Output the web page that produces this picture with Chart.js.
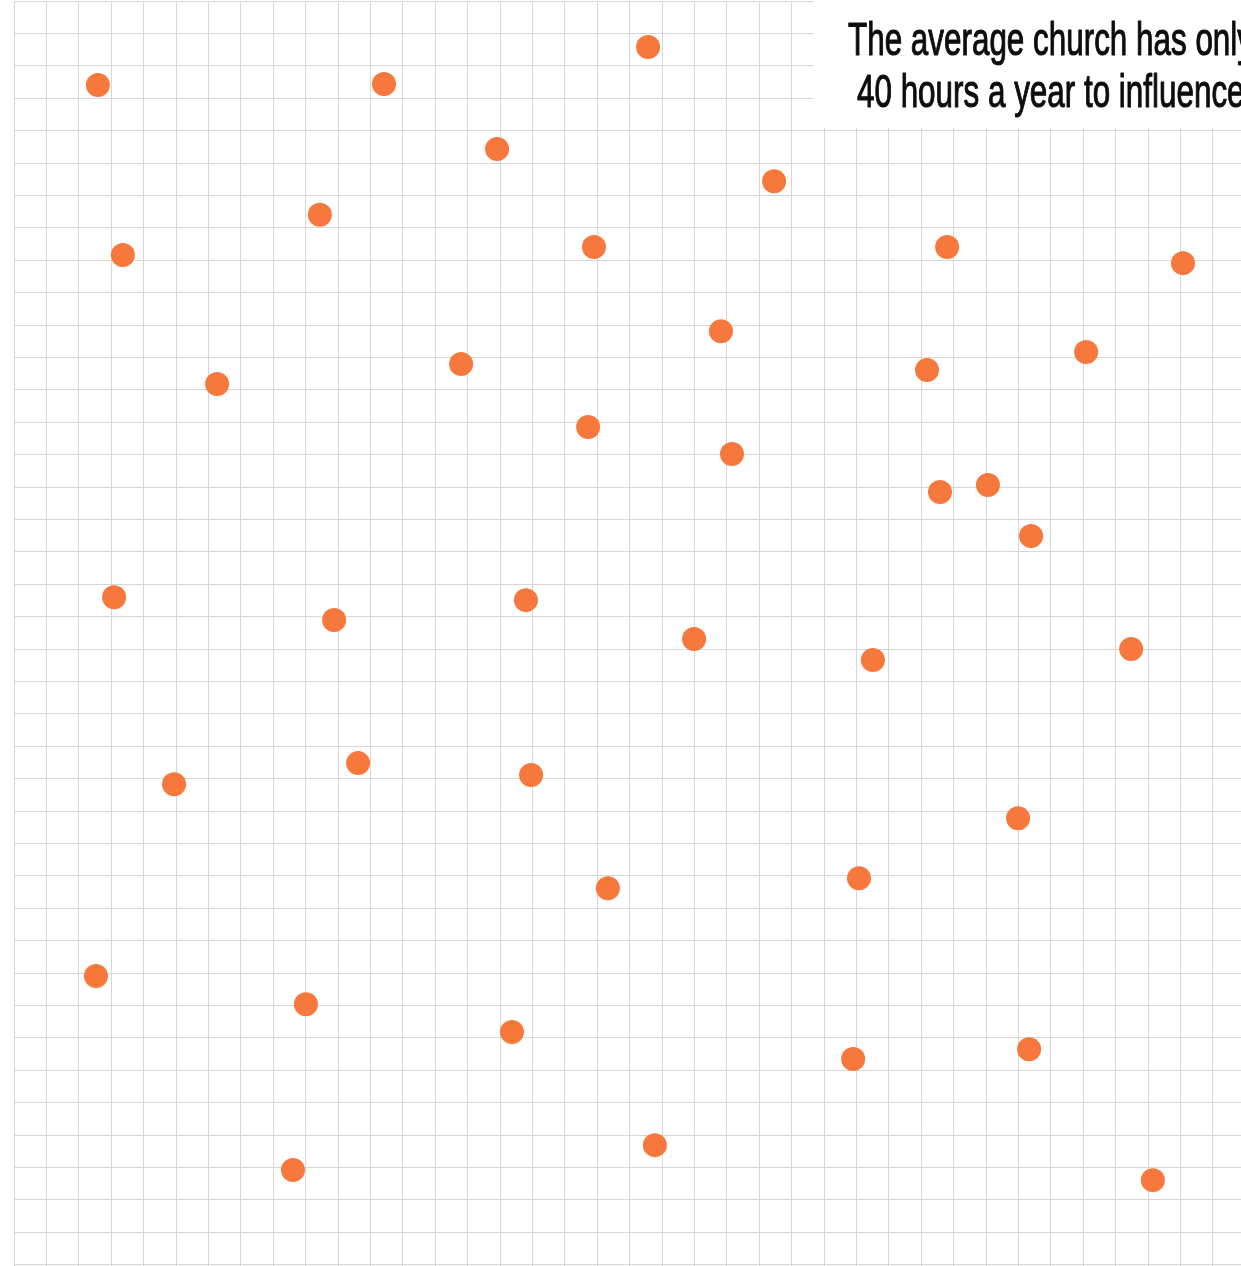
<!DOCTYPE html>
<html>
<head>
<meta charset="utf-8">
<script src="https://cdn.jsdelivr.net/npm/chart.js@4.4.1/dist/chart.umd.min.js"></script>
<style>
    html, body { margin: 0; padding: 0; background: #fff; }
    #wrap { width: 1241px; height: 1266px; position: relative; }
</style>
</head>
<body>
<div id="wrap"><canvas id="dots"></canvas></div>
<script>
// dot positions, in grid squares (x from left edge, y from top edge)
const xValues = [2.59, 11.42, 19.57, 14.91, 23.46, 9.44, 3.36, 17.90, 28.80, 36.08,
    21.82, 33.09, 13.80, 28.18, 6.27, 17.72, 22.16, 28.58, 30.06, 31.39,
    3.09, 9.88, 15.80, 20.99, 26.51, 34.48, 10.62, 4.94, 15.96, 30.99,
    18.33, 26.08, 2.53, 9.01, 15.37, 25.90, 31.33, 19.78, 8.61, 35.15];
const yValues = [2.59, 2.56, 1.42, 4.57, 5.56, 6.60, 7.84, 7.59, 7.59, 8.09,
    10.19, 10.83, 11.20, 11.39, 11.82, 13.15, 13.98, 15.15, 14.94, 16.51,
    18.40, 19.10, 18.49, 19.69, 20.34, 20.00, 23.52, 24.17, 23.89, 25.22,
    27.38, 27.07, 30.09, 30.96, 31.82, 32.65, 32.35, 35.31, 36.08, 36.39];
const titleLines = ['The average church has only', '40 hours a year to influence'];

const xMax = 37.87;
const yMax = 39.04;

const points = xValues.map((x, i) => ({ x: x, y: yValues[i] }));

// white label box with the title text in the top right corner
const titleBox = {
    id: 'titleBox',
    afterDraw(chart) {
        const ctx = chart.ctx;
        ctx.save();
        ctx.fillStyle = '#ffffff';
        ctx.fillRect(813, 0, 440, 128);

        ctx.fillStyle = '#0d0d0d';
        ctx.strokeStyle = '#0d0d0d';
        ctx.lineWidth = 1.1;
        ctx.lineJoin = 'round';
        ctx.font = '47px "Liberation Sans Narrow", "Liberation Sans", Arial, sans-serif';
        ctx.textBaseline = 'alphabetic';
        const w0 = ctx.measureText(titleLines[0]).width;
        const sx = 405 / w0;
        ctx.translate(848, 0);
        ctx.scale(sx, 1);
        ctx.fillText(titleLines[0], 0, 55);
        ctx.strokeText(titleLines[0], 0, 55);
        ctx.fillText(titleLines[1], 9 / sx, 107);
        ctx.strokeText(titleLines[1], 9 / sx, 107);
        ctx.restore();
    }
};

new Chart(document.getElementById('dots'), {
    type: 'scatter',
    data: {
        datasets: [{
            data: points,
            backgroundColor: 'rgb(247, 120, 60)',
            borderWidth: 0,
            pointRadius: 12,
            pointHoverRadius: 12
        }]
    },
    options: {
        responsive: true,
        maintainAspectRatio: false,
        animation: false,
        layout: { autoPadding: false, padding: { left: 14, top: 1, right: 0, bottom: 0 } },
        plugins: {
            legend: { display: false },
            tooltip: { enabled: false }
        },
        scales: {
            x: {
                type: 'linear',
                min: 0,
                max: xMax,
                border: { display: false },
                grid: { color: 'rgb(214, 214, 214)', lineWidth: 1, drawTicks: false },
                ticks: { display: false, stepSize: 1, includeBounds: false }
            },
            y: {
                type: 'linear',
                reverse: true,
                min: 0,
                max: yMax,
                border: { display: false },
                grid: { color: 'rgb(214, 214, 214)', lineWidth: 1, drawTicks: false },
                ticks: { display: false, stepSize: 1, includeBounds: false }
            }
        }
    },
    plugins: [titleBox]
});
</script>
</body>
</html>
